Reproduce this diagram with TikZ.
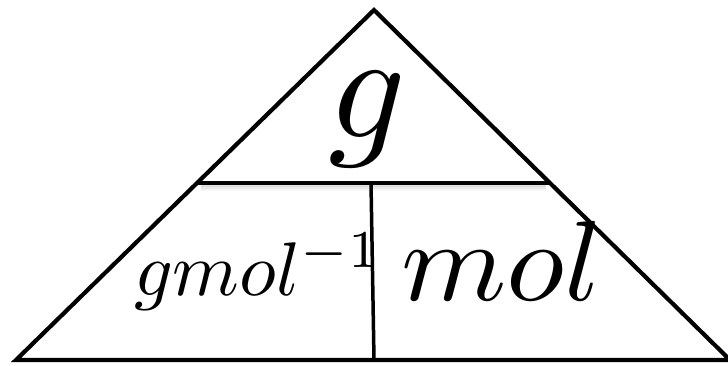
\documentclass[tikz,border=0pt]{standalone}
\usepackage{graphicx}
\begin{document}
\begin{tikzpicture}[x=1pt,y=-1pt,
  edge/.style={line width=4.2pt,line join=miter,black},
  divider/.style={line width=3.5pt,black},
  lbl/.style={anchor=base west,inner sep=0pt,outer sep=0pt}]
\useasboundingbox (0,0) rectangle (728,365);
% corners
\coordinate (top) at (374,10);
\coordinate (bl) at (16,360);
\coordinate (br) at (730,360);
\coordinate (hl) at (197,183);
\coordinate (hr) at (550,183);
\coordinate (vt) at (371,183);
\coordinate (vb) at (374,360);
% soft shadow under the middle line
\foreach \d/\o in {2/0.10,4/0.07,6/0.04}{
  \draw[line width=3pt,black,opacity=\o] ([xshift=4pt,yshift=-\d pt]hl) -- ([xshift=-4pt,yshift=-\d pt]hr);
}
\draw[edge] (bl) -- (top) -- (br) -- cycle;
\draw[divider] (hl) -- (hr);
\draw[divider] (vt) -- (vb);
% labels
\node[anchor=base,inner sep=0pt] (g) at (367,137) {\scalebox{15.2}{$g$}};
\node[lbl] (gm) at (134,295) {\scalebox{7.6}{$gmol^{-1}$}};
\node[lbl] (mol) at (401,300) {\scalebox{12.0}[11.4]{$mol$}};
\end{tikzpicture}
\end{document}
